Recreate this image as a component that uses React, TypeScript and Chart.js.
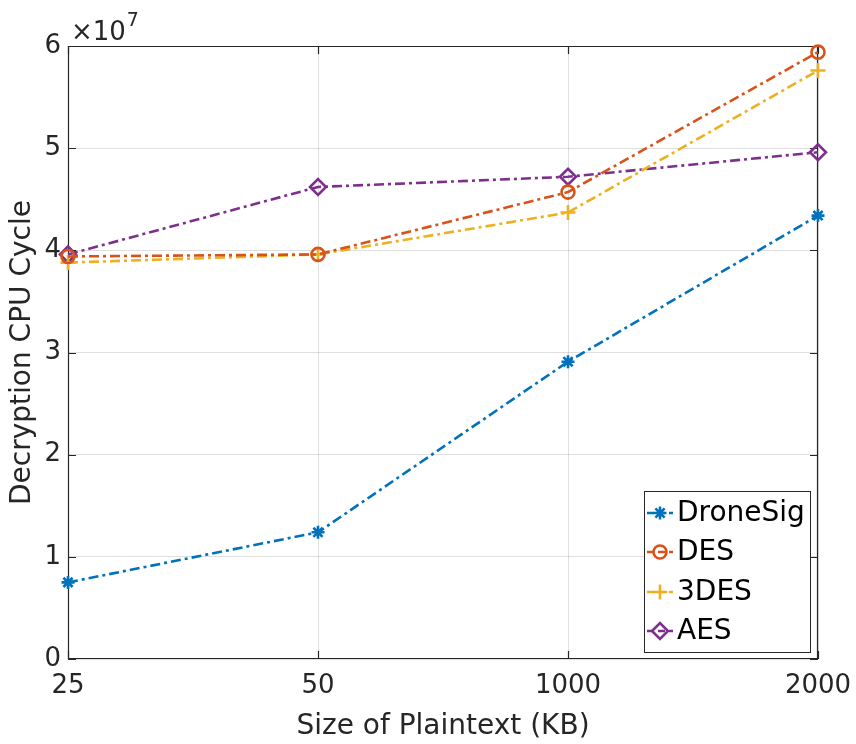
import React, { useEffect, useRef } from "react";
import { Chart, registerables } from "chart.js";
import { drawPoint } from "chart.js/helpers";

Chart.register(...registerables);

const categories = ["25", "50", "1000", "2000"];
const droneSig = [0.75e7, 1.24e7, 2.91e7, 4.34e7];
const des = [3.94e7, 3.96e7, 4.57e7, 5.94e7];
const tripleDes = [3.88e7, 3.96e7, 4.37e7, 5.76e7];
const aes = [3.96e7, 4.62e7, 4.72e7, 4.96e7];
const yTicks = [0, 1e7, 2e7, 3e7, 4e7, 5e7, 6e7];

const FONT = "DejaVu Sans";
const AXIS = "#262626";
const DASH = [10, 4, 3, 4];

const series = [
  { label: "DroneSig", data: droneSig, color: "#0072BD", style: "star", radius: 6.5 },
  { label: "DES", data: des, color: "#D95319", style: "circle", radius: 6.5 },
  { label: "3DES", data: tripleDes, color: "#EDB120", style: "cross", radius: 7.5 },
  { label: "AES", data: aes, color: "#7E2F8E", style: "rectRot", radius: 8 },
];

const matlabPlugin = {
  id: "matlabFrame",
  beforeDatasetsDraw(chart: any) {
    const { ctx, chartArea } = chart;
    const { left, right, top, bottom } = chartArea;
    const xs = chart.scales.x;
    const ys = chart.scales.y;
    ctx.save();
    ctx.strokeStyle = AXIS;
    ctx.lineWidth = 1.2;
    ctx.beginPath();
    ctx.rect(left + 0.5, top + 0.5, right - left - 1, bottom - top - 1);
    ctx.stroke();
    const tl = 8;
    ctx.beginPath();
    yTicks.forEach((v) => {
      const y = Math.round(ys.getPixelForValue(v)) + 0.5;
      ctx.moveTo(left, y);
      ctx.lineTo(left + tl, y);
      ctx.moveTo(right, y);
      ctx.lineTo(right - tl, y);
    });
    categories.forEach((_, i) => {
      const x = Math.round(xs.getPixelForValue(i)) + 0.5;
      ctx.moveTo(x, bottom);
      ctx.lineTo(x, bottom - tl);
      ctx.moveTo(x, top);
      ctx.lineTo(x, top + tl);
    });
    ctx.stroke();
    ctx.restore();
  },
  afterDraw(chart: any) {
    const { ctx, chartArea } = chart;
    ctx.save();
    // exponent label
    ctx.fillStyle = AXIS;
    ctx.textBaseline = "alphabetic";
    ctx.textAlign = "left";
    ctx.font = `26px "${FONT}"`;
    ctx.fillText("\u00d710", chartArea.left + 3, 40);
    const w = ctx.measureText("\u00d710").width;
    ctx.font = `19px "${FONT}"`;
    ctx.fillText("7", chartArea.left + 3 + w + 1, 26);

    // legend
    const bx = 644, by = 491, bw = 166, bh = 161;
    ctx.fillStyle = "#ffffff";
    ctx.fillRect(bx, by, bw, bh);
    ctx.strokeStyle = AXIS;
    ctx.lineWidth = 1;
    ctx.strokeRect(bx + 0.5, by + 0.5, bw, bh);
    const rowY = [513, 552, 592, 631];
    chart.data.datasets.forEach((ds: any, i: number) => {
      const y = rowY[i];
      ctx.strokeStyle = ds.borderColor;
      ctx.lineWidth = 2.6;
      ctx.setLineDash([7, 4]);
      ctx.beginPath();
      ctx.moveTo(647, y);
      ctx.lineTo(673, y);
      ctx.stroke();
      ctx.setLineDash([]);
      ctx.fillStyle = "rgba(0,0,0,0)";
      drawPoint(
        ctx,
        { pointStyle: ds.pointStyle, radius: ds.pointRadius, borderWidth: 2.6, rotation: 0 },
        660,
        y
      );
      ctx.fillStyle = "#000000";
      ctx.font = `28px "${FONT}"`;
      ctx.textBaseline = "middle";
      ctx.textAlign = "left";
      ctx.fillText(ds.label, 677, y + 1);
    });
    ctx.restore();
  },
};

export default function App() {
  const ref = useRef<HTMLCanvasElement | null>(null);
  useEffect(() => {
    if (!ref.current) return;
    const chart = new Chart(ref.current, {
      type: "line",
      data: {
        labels: categories,
        datasets: series.map((s) => ({
          label: s.label,
          data: s.data,
          borderColor: s.color,
          backgroundColor: s.color,
          borderWidth: 2.6,
          borderDash: DASH,
          fill: false,
          tension: 0,
          pointStyle: s.style as any,
          pointRadius: s.radius,
          pointBorderWidth: 2.6,
          pointBorderColor: s.color,
          pointBackgroundColor: "rgba(0,0,0,0)",
        })),
      },
      options: {
        animation: false,
        responsive: false,
        devicePixelRatio: 1,
        clip: false as any,
        layout: { padding: { top: 46, right: 38, left: 0, bottom: 0 } },
        plugins: { legend: { display: false }, tooltip: { enabled: false } },
        scales: {
          x: {
            type: "category",
            offset: false,
            grid: { color: "rgba(38,38,38,0.15)", drawTicks: false, lineWidth: 1 },
            border: { display: false },
            ticks: { color: AXIS, font: { family: FONT, size: 26 }, padding: 12, maxRotation: 0, autoSkip: false },
            title: {
              display: true,
              text: "Size of Plaintext (KB)",
              color: AXIS,
              font: { family: FONT, size: 28 },
              padding: { top: 0, bottom: 0 },
            },
            afterFit(scale: any) {
              scale.height = 85;
              scale.paddingLeft = 0;
              scale.paddingRight = 0;
            },
          },
          y: {
            min: 0,
            max: 6e7,
            afterBuildTicks(scale: any) {
              scale.ticks = yTicks.map((v) => ({ value: v }));
            },
            grid: { color: "rgba(38,38,38,0.15)", drawTicks: false, lineWidth: 1 },
            border: { display: false },
            ticks: {
              color: AXIS,
              font: { family: FONT, size: 26 },
              padding: 7,
              callback: (v: any) => String(Number(v) / 1e7),
            },
            title: {
              display: true,
              text: "Decryption CPU Cycle",
              color: AXIS,
              font: { family: FONT, size: 28 },
              padding: { top: 6, bottom: 0 },
            },
            afterFit(scale: any) {
              scale.width = 68;
              scale.paddingTop = 0;
              scale.paddingBottom = 0;
            },
          },
        },
      },
      plugins: [matlabPlugin],
    });
    return () => chart.destroy();
  }, []);
  return (
    <div style={{ position: "absolute", left: 0, top: 0, width: 856, height: 744, background: "#fff" }}>
      <canvas ref={ref} width={856} height={744} />
    </div>
  );
}
